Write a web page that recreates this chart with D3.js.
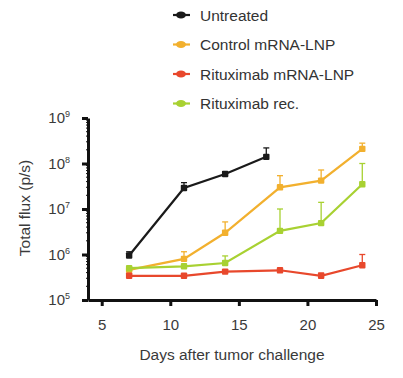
<!DOCTYPE html>
<html>
<head>
<meta charset="utf-8">
<script src="https://d3js.org/d3.v7.min.js"></script>
<style>
  body { margin: 0; background: #fff; }
  text { font-family: "Liberation Sans", Arial, sans-serif; }
</style>
</head>
<body>
<svg id="chart" width="403" height="378"></svg>
<script>
// data
var groups = ["Untreated", "Control mRNA-LNP", "Rituximab mRNA-LNP", "Rituximab rec."];
var colors = ["#1a1a1a", "#f2b02e", "#e8482c", "#a8d132"];

var untreatedDays = [7, 11, 14, 17];
var untreatedFlux = [9.5e5, 2.9e7, 5.9e7, 1.4e8];
var untreatedErr  = [1.15e6, 3.8e7, 6.6e7, 2.2e8];

var controlDays = [7, 11, 14, 18, 21, 24];
var controlFlux = [4.6e5, 8e5, 3e6, 3e7, 4.2e7, 2.1e8];
var controlErr  = [5.2e5, 1.15e6, 5.2e6, 5.4e7, 7.2e7, 2.8e8];

var ritxDays = [7, 11, 14, 18, 21, 24];
var ritxFlux = [3.4e5, 3.4e5, 4.2e5, 4.5e5, 3.4e5, 5.8e5];
var ritxErr  = [3.7e5, 3.7e5, 4.6e5, 4.9e5, 3.9e5, 1.0e6];

var recDays = [7, 11, 14, 18, 21, 24];
var recFlux = [5e5, 5.5e5, 6.5e5, 3.3e6, 4.9e6, 3.5e7];
var recErr  = [5.4e5, 6e5, 9.3e5, 1e7, 1.4e7, 1e8];

var xTicks = [5, 10, 15, 20, 25];
var yTicks = [1e5, 1e6, 1e7, 1e8, 1e9];

var series = [
  {days: untreatedDays, flux: untreatedFlux, err: untreatedErr},
  {days: controlDays, flux: controlFlux, err: controlErr},
  {days: ritxDays, flux: ritxFlux, err: ritxErr},
  {days: recDays, flux: recFlux, err: recErr}
];

var svg = d3.select("#chart");

var x = d3.scaleLinear().domain([4, 25]).range([88, 376]);
var y = d3.scaleLog().domain([1e5, 1e9]).range([300, 118]);

// axes
var xAxis = svg.append("g")
  .attr("transform", "translate(0,300)")
  .call(d3.axisBottom(x).tickValues(xTicks).tickSize(6).tickPadding(13).tickSizeOuter(0));
var yAxis = svg.append("g")
  .attr("transform", "translate(88,0)")
  .call(d3.axisLeft(y).tickValues(yTicks).tickSize(6).tickPadding(6).tickSizeOuter(0)
    .tickFormat(function(d){ return "10"; }));

[xAxis, yAxis].forEach(function(a){
  a.select(".domain").attr("stroke", "#111").attr("stroke-width", 3);
  a.selectAll(".tick line").attr("stroke", "#111").attr("stroke-width", 3);
  a.selectAll(".tick text").attr("fill", "#3a3a3a").style("font-size", "15px")
    .style("font-family", "Liberation Sans, Arial, sans-serif");
});
yAxis.selectAll(".tick text").each(function(d){
  var t = d3.select(this);
  t.attr("dx", "-6px");
  t.append("tspan").attr("dy", "-6").style("font-size", "9px")
    .text(Math.round(Math.log10(d)));
});

// minor ticks on y
var minor = [];
for (var e = 5; e < 9; e++) for (var m = 2; m < 10; m++) minor.push(m * Math.pow(10, e));
svg.append("g").selectAll("line").data(minor).enter().append("line")
  .attr("x1", 86).attr("x2", 90)
  .attr("y1", function(d){ return y(d); }).attr("y2", function(d){ return y(d); })
  .attr("stroke", "#111").attr("stroke-width", 1);

// axis titles
svg.append("text").attr("x", 232).attr("y", 360).attr("text-anchor", "middle")
  .attr("fill", "#3a3a3a").style("font-size", "15.5px").text("Days after tumor challenge");
svg.append("text").attr("transform", "translate(30,208) rotate(-90)").attr("text-anchor", "middle")
  .attr("fill", "#3a3a3a").style("font-size", "15.5px").text("Total flux (p/s)");

// series
var line = d3.line()
  .x(function(d){ return x(d.day); })
  .y(function(d){ return y(d.flux); });

series.forEach(function(s, i){
  var pts = s.days.map(function(d, j){ return {day: d, flux: s.flux[j], err: s.err[j]}; });
  var g = svg.append("g");
  g.selectAll("line.err").data(pts).enter().append("line")
    .attr("x1", function(d){ return x(d.day); }).attr("x2", function(d){ return x(d.day); })
    .attr("y1", function(d){ return y(d.flux); }).attr("y2", function(d){ return y(d.err); })
    .attr("stroke", colors[i]).attr("stroke-width", 1.3);
  g.selectAll("line.cap").data(pts).enter().append("line")
    .attr("x1", function(d){ return x(d.day) - 3; }).attr("x2", function(d){ return x(d.day) + 3; })
    .attr("y1", function(d){ return y(d.err); }).attr("y2", function(d){ return y(d.err); })
    .attr("stroke", colors[i]).attr("stroke-width", 1.3);
  g.append("path").datum(pts).attr("d", line)
    .attr("fill", "none").attr("stroke", colors[i]).attr("stroke-width", 2.2);
  g.selectAll("rect").data(pts).enter().append("rect")
    .attr("x", function(d){ return x(d.day) - 3.2; }).attr("y", function(d){ return y(d.flux) - 3.2; })
    .attr("width", 6.4).attr("height", 6.4).attr("rx", 1).attr("fill", colors[i]);
});

// legend
var leg = svg.append("g").selectAll("g").data(groups).enter().append("g")
  .attr("transform", function(d, i){ return "translate(0," + (15 + i * 29.5) + ")"; });
leg.append("line").attr("x1", 173).attr("x2", 190).attr("y1", 0).attr("y2", 0)
  .attr("stroke", function(d, i){ return colors[i]; }).attr("stroke-width", 2.2);
leg.append("ellipse").attr("cx", 181).attr("cy", 0).attr("rx", 5).attr("ry", 3.5)
  .attr("fill", function(d, i){ return colors[i]; });
leg.append("text").attr("x", 200).attr("y", 5.5).attr("fill", "#333")
  .style("font-size", "15.5px").text(function(d){ return d; });
</script>
</body>
</html>
